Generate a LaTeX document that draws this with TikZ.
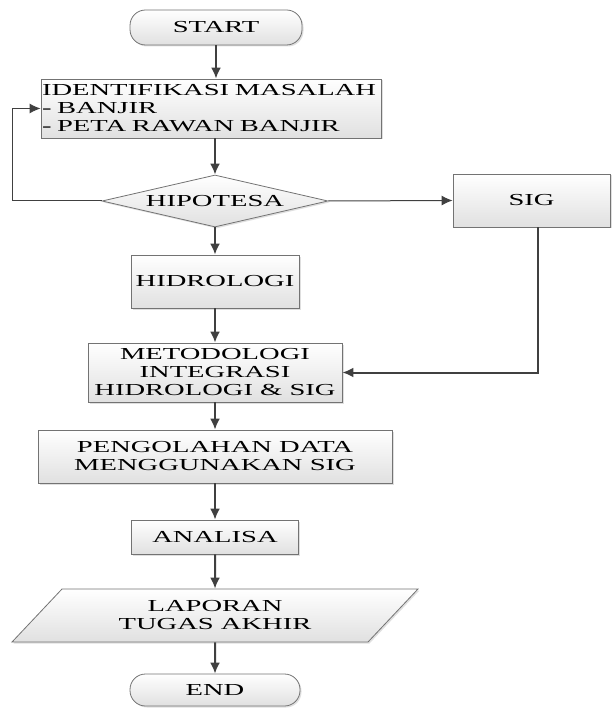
\documentclass[tikz,border=0pt]{standalone}
\usepackage{fontspec}
\setmainfont{Liberation Serif}[FakeStretch=1.7]
\usetikzlibrary{arrows.meta,shapes.geometric,shadows}

\begin{document}
\begin{tikzpicture}[x=1pt,y=-1pt,>={Latex[length=11pt,width=10pt]},
  box/.style={draw=black!55,line width=0.8pt,top color=white,bottom color=black!12,
    drop shadow={shadow xshift=1.5pt,shadow yshift=-1.5pt,fill=black!25},
    font=\fontsize{16.8}{18}\selectfont,align=center,inner sep=2pt},
  terminal/.style={box,rounded corners=15.5pt},
  flow/.style={draw=black!75,line width=2pt,->},
  flowtipis/.style={draw=black!75,line width=1pt,->}]
\useasboundingbox (0,0) rectangle (614,708);
\node[terminal,minimum width=172,minimum height=35] (start) at (216,27.5) {START};
\node[box,text width=338,inner sep=1pt,align=left,minimum height=59] (ident) at (211,108.5)
  {IDENTIFIKASI MASALAH\\- BANJIR\\- PETA RAWAN BANJIR};
\node[box,shape=diamond,aspect=4.35,inner sep=0pt,minimum width=226,minimum height=52] (hipo) at (215,201) {HIPOTESA};
\node[box,minimum width=157,minimum height=53] (sig) at (531.5,200.5) {SIG};
\node[box,minimum width=168,minimum height=53] (hidro) at (215,281.5) {HIDROLOGI};
\node[box,minimum width=254,minimum height=59] (meto) at (215,372.5)
  {METODOLOGI\\INTEGRASI\\HIDROLOGI \& SIG};
\node[box,minimum width=354,minimum height=53] (olah) at (215,456.5)
  {PENGOLAHAN DATA\\MENGGUNAKAN SIG};
\node[box,minimum width=167,minimum height=34] (analisa) at (215,537) {ANALISA};
\node[box,shape=trapezium,trapezium left angle=46,trapezium right angle=134,
  trapezium stretches=true,minimum width=406,minimum height=53] (lapor) at (215,615.5)
  {LAPORAN\\TUGAS AKHIR};
\node[terminal,minimum width=170,minimum height=32] (selesai) at (215,690) {END};

\draw[flow] (start.south) -- (start.south |- ident.north);
\draw[flow] (ident.south -| hipo) -- (hipo.north);
\draw[flowtipis] (hipo.west) -- ++(-89,0) |- (ident.west);
\draw[flowtipis] (hipo.east) -- (sig.west);
\draw[flow] (hipo.south) -- (hidro.north);
\draw[flow] (hidro.south) -- (meto.north);
\draw[flow] ([xshift=6.5pt]sig.south) |- (meto.east);
\draw[flow] (meto.south) -- (olah.north);
\draw[flow] (olah.south) -- (analisa.north);
\draw[flow] (analisa.south) -- (lapor.north);
\draw[flow] (lapor.south) -- (selesai.north);
\end{tikzpicture}
\end{document}
